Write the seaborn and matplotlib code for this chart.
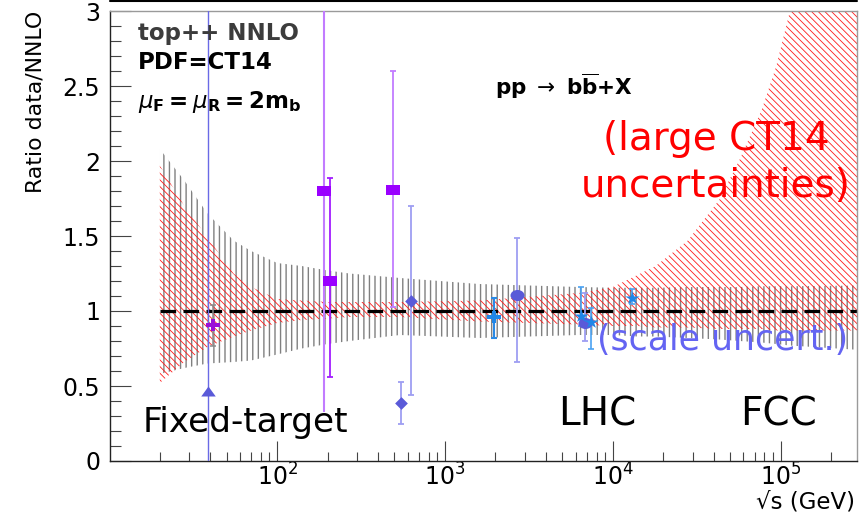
import matplotlib
matplotlib.use("Agg")
import matplotlib.pyplot as plt
import seaborn as sns
import pandas as pd
from matplotlib.markers import MarkerStyle
from matplotlib.transforms import Affine2D
from matplotlib.lines import Line2D
from matplotlib.ticker import FixedLocator, LogLocator, NullFormatter, FuncFormatter

# ---- theory envelopes (ratio to central NNLO) vs sqrt(s) in GeV ----
band_sqrt_s = [20, 28, 38.5, 55, 70, 100, 140, 200, 270, 540, 1600, 6300,
               10000, 14000, 18000, 28000, 43000, 57000, 77000, 94000, 113000, 300000]
scale_hi = [2.08, 1.87, 1.65, 1.47, 1.40, 1.32, 1.30, 1.27, 1.25, 1.22, 1.18, 1.16,
            1.155, 1.155, 1.155, 1.16, 1.16, 1.16, 1.165, 1.165, 1.165, 1.17]
scale_lo = [0.58, 0.62, 0.65, 0.66, 0.67, 0.71, 0.75, 0.78, 0.80, 0.84, 0.82, 0.84,
            0.84, 0.83, 0.83, 0.82, 0.81, 0.80, 0.79, 0.78, 0.77, 0.74]
pdf_hi = [1.97, 1.70, 1.49, 1.25, 1.16, 1.08, 1.07, 1.06, 1.06, 1.06, 1.07, 1.12,
          1.16, 1.24, 1.30, 1.47, 1.74, 2.01, 2.34, 2.63, 2.99, 5.0]
pdf_lo = [0.52, 0.66, 0.76, 0.83, 0.87, 0.92, 0.94, 0.95, 0.96, 0.96, 0.93, 0.91,
          0.90, 0.90, 0.89, 0.89, 0.88, 0.88, 0.88, 0.87, 0.87, 0.87]

# ---- measurements: ratio data/NNLO with uncertainty range ----
tri_s, tri_r, tri_lo, tri_hi = [38.8], [0.47], [0.0], [3.6]
plus_s, plus_r, plus_lo, plus_hi = [41.6], [0.907], [0.77], [1.04]
sq_s, sq_r = [190, 207, 490], [1.80, 1.20, 1.81]
sq_lo, sq_hi = [0.33, 0.56, 1.03], [3.6, 1.89, 2.60]
dia_s, dia_r = [546, 630], [0.39, 1.07]
dia_lo, dia_hi = [0.25, 0.44], [0.53, 1.70]
circ_s, circ_r = [2700, 6800], [1.11, 0.92]
circ_lo, circ_hi = [0.66, 0.80], [1.49, 1.12]
cross_s, cross_r, cross_lo, cross_hi = [1960], [0.96], [0.82], [1.09]
star_s, star_r = [6450, 7400, 13000], [0.97, 0.93, 1.09]
star_lo, star_hi = [0.90, 0.75, 1.05], [1.16, 1.02, 1.15]

ref_s, ref_r = [20, 300000], [1.0, 1.0]
decade_ticks = [1e2, 1e3, 1e4, 1e5]
y_ticks = [0, 0.5, 1, 1.5, 2, 2.5, 3]

sns.set_style("ticks")
plt.rcParams["font.family"] = ["DejaVu Sans"]
plt.rcParams["mathtext.fontset"] = "dejavusans"
plt.rcParams["text.color"] = "black"
plt.rcParams["axes.labelcolor"] = "black"
plt.rcParams["xtick.labelcolor"] = "black"
plt.rcParams["ytick.labelcolor"] = "black"

fig = plt.figure(figsize=(8.64, 5.22), dpi=100)
ax = fig.add_axes([110 / 864, 61 / 522, 747 / 864, 450 / 522])
ax.set_xscale("log")
ax.set_xlim(10.1, 2.85e5)
ax.set_ylim(0, 3)

# uncertainty bands
gray_band = ax.fill_between(band_sqrt_s, scale_lo, scale_hi, facecolor="none",
                            edgecolor="#808080", hatch="|||", linewidth=0, zorder=1)
red_band = ax.fill_between(band_sqrt_s, pdf_lo, pdf_hi, facecolor="none",
                           edgecolor="#ff1a1a", hatch="\\\\\\\\\\", linewidth=0, zorder=1.5)
if hasattr(gray_band, "set_hatch_linewidth"):
    gray_band.set_hatch_linewidth(1.0)
    red_band.set_hatch_linewidth(0.6)

# NNLO reference
ax.plot(ref_s, ref_r, color="black", lw=2.3, dashes=(4.9, 2.3), zorder=2)


def bars(x, y, lo, hi, color, lw=1.1, cap=2.5):
    yerr = [[v - l for v, l in zip(y, lo)], [h - v for v, h in zip(y, hi)]]
    ax.errorbar(x, y, yerr=yerr, fmt="none", ecolor=color, elinewidth=lw,
                capsize=cap, capthick=lw, zorder=3)


bars(tri_s, tri_r, tri_lo, tri_hi, "#6a6ae6", lw=1.0, cap=0)
bars(plus_s, plus_r, plus_lo, plus_hi, "#8a8a8a", lw=1.1, cap=2)
bars(sq_s[:1], sq_r[:1], sq_lo[:1], sq_hi[:1], "#c27cff", lw=1.5, cap=0)
bars(sq_s[1:2], sq_r[1:2], sq_lo[1:2], sq_hi[1:2], "#a21cff", lw=1.3, cap=2.5)
bars(sq_s[2:], sq_r[2:], sq_lo[2:], sq_hi[2:], "#c27cff", lw=1.3, cap=2.5)
bars(dia_s, dia_r, dia_lo, dia_hi, "#9e9ef2", lw=1.3, cap=2.5)
bars(circ_s, circ_r, circ_lo, circ_hi, "#9e9ef2", lw=1.3, cap=2.5)
bars(cross_s, cross_r, cross_lo, cross_hi, "#2a8ae6", lw=1.5, cap=2)
bars(star_s, star_r, star_lo, star_hi, "#4aa2f2", lw=1.2, cap=2.5)


def stretched(m, sx):
    return MarkerStyle(m, transform=Affine2D().scale(sx, 1.0))


def points(x, y, marker, size, color):
    df = pd.DataFrame({"sqrt_s": x, "ratio": y})
    sns.scatterplot(data=df, x="sqrt_s", y="ratio", marker=marker, s=size,
                    color=color, edgecolor=color, linewidth=0, ax=ax, zorder=4,
                    legend=False)


points(tri_s, tri_r, stretched("^", 1.45), 52, "#5a5ad8")
points(plus_s, plus_r, stretched("P", 1.15), 85, "#9a10d8")
points(sq_s, sq_r, stretched("s", 1.3), 52, "#9a00ff")
points(dia_s, dia_r, stretched("D", 1.0), 42, "#5a5ad8")
points(circ_s, circ_r, stretched("o", 1.27), 63, "#5a5ad8")
points(cross_s, cross_r, stretched("P", 1.25), 70, "#1f86e8")
points(star_s, star_r, stretched("*", 1.15), 90, "#1f86e8")

# axes styling
ax.set_xlabel("")
ax.set_ylabel("")
ax.xaxis.set_major_locator(FixedLocator(decade_ticks))
ax.xaxis.set_minor_locator(LogLocator(base=10, subs=range(2, 10), numticks=20))
ax.xaxis.set_minor_formatter(NullFormatter())
ax.yaxis.set_major_locator(FixedLocator(y_ticks))
ax.yaxis.set_minor_locator(FixedLocator([i / 10 for i in range(31)]))
ax.yaxis.set_major_formatter(FuncFormatter(lambda v, p: f"{v:g}"))
ax.tick_params(axis="both", which="both", direction="in", top=False, right=False,
               color="#444444", width=0.8)
ax.tick_params(axis="y", which="major", length=15, pad=7, labelsize=17)
ax.tick_params(axis="y", which="minor", length=8)
ax.tick_params(axis="x", which="major", length=14.4, pad=1.5, labelsize=17)
ax.tick_params(axis="x", which="minor", length=6.5)
for side in ("left", "bottom"):
    ax.spines[side].set_color("#222222")
    ax.spines[side].set_linewidth(1.0)
for side in ("top", "right"):
    ax.spines[side].set_color("#9a9a9a")
    ax.spines[side].set_linewidth(1.0)

ax.set_ylabel("Ratio data/NNLO", fontsize=15.8, loc="top")
ax.yaxis.set_label_coords(-0.0857, 1.0)
ax.set_xlabel("\u221as (GeV)", fontsize=16.5, loc="right")
ax.xaxis.set_label_coords(0.997, -0.066)

# annotations
tr = ax.transAxes
ax.text(0.0375, 0.9356, "top++ NNLO", transform=tr, fontsize=16.5,
        fontweight="bold", color="#3c3c3c", va="baseline")
ax.text(0.0375, 0.8711, "PDF=CT14", transform=tr, fontsize=16.5,
        fontweight="bold", color="black", va="baseline")
ax.text(0.0375, 0.7844, r"$\mu_{\mathbf{F}}\mathbf{=}\mu_{\mathbf{R}}\mathbf{=2m_{b}}$",
        transform=tr, fontsize=16.5, color="black", va="baseline")
ax.text(0.5154, 0.8133,
        r"$\mathbf{pp}\ \rightarrow\ \mathbf{b}\overline{\mathbf{b}}\mathbf{+X}$",
        transform=tr, fontsize=15.5, color="black", va="baseline")
ax.text(0.811, 0.691, "(large CT14", transform=tr, fontsize=28, color="#ff0000",
        ha="center", va="baseline", zorder=6)
ax.text(0.811, 0.5867, "uncertainties)", transform=tr, fontsize=28, color="#ff0000",
        ha="center", va="baseline", zorder=6)
ax.text(0.652, 0.2467, "(scale uncert.)", transform=tr, fontsize=25,
        color="#6464f2", va="baseline", zorder=6)
ax.text(0.0442, 0.0644, "Fixed-target", transform=tr, fontsize=24.7,
        color="black", va="baseline", zorder=6)
ax.text(0.5997, 0.08, "LHC", transform=tr, fontsize=28, color="black",
        va="baseline", zorder=6)
ax.text(0.8434, 0.08, "FCC", transform=tr, fontsize=28, color="black",
        va="baseline", zorder=6)

# frame edge of the panel above
fig.add_artist(Line2D([110 / 864, 857 / 864], [1 - 1 / 522, 1 - 1 / 522],
                      color="black", lw=1.5))

fig.savefig("out.png", dpi=100)
